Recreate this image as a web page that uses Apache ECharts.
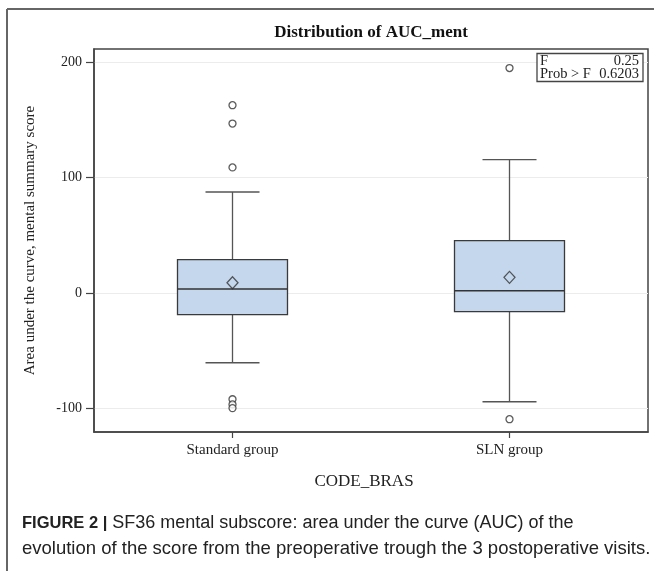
<!DOCTYPE html>
<html>
<head>
<meta charset="utf-8">
<script src="https://cdn.jsdelivr.net/npm/echarts@6/dist/echarts.min.js"></script>
<style>
html,body{margin:0;padding:0;background:#fff;}
#chart{width:654px;height:571px;}
</style>
</head>
<body>
<div id="chart"></div>
<script>
// ---- data ----
var categories = ['Standard group', 'SLN group'];
var whiskerLow = [-60.4, -94.2];
var q1 = [-18.7, -16.1];
var median = [3.5, 2.0];
var q3 = [29.0, 45.4];
var whiskerHigh = [87.6, 115.7];
var means = [9.0, 13.6];
var outlierGroup = [0, 0, 0, 0, 0, 0, 1, 1];
var outlierValues = [162.8, 146.9, 108.9, -92.0, -96.5, -99.7, 195.0, -109.3];
var yTicks = [-100, 0, 100, 200];
var titleText = 'Distribution of AUC_ment';
var yAxisName = 'Area under the curve, mental summary score';
var xAxisName = 'CODE_BRAS';
var statLabels = ['F', 'Prob > F'];
var statValues = ['0.25', '0.6203'];
var captionBold = 'FIGURE 2 |';
var captionLine1 = ' SF36 mental subscore: area under the curve (AUC) of the';
var captionLine2 = 'evolution of the score from the preoperative trough the 3 postoperative visits.';

var boxData = categories.map(function (c, i) {
  return [i, whiskerLow[i], q1[i], median[i], q3[i], whiskerHigh[i]];
});
var meanData = categories.map(function (c, i) { return [i, means[i]]; });
var outlierData = outlierValues.map(function (v, i) { return [outlierGroup[i], v]; });

var serif = '"Liberation Serif", "DejaVu Serif", serif';
var sans = '"Liberation Sans", Arial, sans-serif';
var BOX_W = 110, CAP_W = 54;

var chart = echarts.init(document.getElementById('chart'), null, {renderer: 'canvas'});
chart.setOption({
  animation: false,
  backgroundColor: '#fff',
  grid: {left: 94, top: 49, right: 6, bottom: 139, show: true, borderColor: '#444', borderWidth: 1.5, backgroundColor: 'transparent'},
  xAxis: {
    type: 'category',
    data: categories,
    boundaryGap: true,
    axisLine: {show: true, onZero: false, lineStyle: {color: '#444', width: 1.5}},
    axisTick: {show: true, alignWithLabel: true, length: 6, lineStyle: {color: '#444', width: 1.2}},
    axisLabel: {fontFamily: serif, fontSize: 15, color: '#222', margin: 11},
    splitLine: {show: false},
    name: xAxisName,
    nameLocation: 'middle',
    nameGap: 41,
    nameTextStyle: {fontFamily: serif, fontSize: 17, color: '#222', padding: [0, 14, 0, 0]}
  },
  yAxis: {
    type: 'value',
    min: -120.4,
    max: 211.5,
    splitNumber: 3,
    axisLine: {show: true, onZero: false, lineStyle: {color: '#444', width: 1.5}},
    axisTick: {show: true, length: 8, customValues: yTicks, lineStyle: {color: '#444', width: 1.2}},
    axisLabel: {fontFamily: serif, fontSize: 14, color: '#222', margin: 12, customValues: yTicks},
    splitLine: {show: true, lineStyle: {color: '#ececec', width: 1}},
    name: yAxisName,
    nameLocation: 'middle',
    nameGap: 56,
    nameTextStyle: {fontFamily: serif, fontSize: 15, color: '#222'}
  },
  series: [
    {
      type: 'custom',
      data: boxData,
      z: 2,
      renderItem: function (params, api) {
        var x = api.value(0);
        var pLow = api.coord([x, api.value(1)]);
        var pQ1 = api.coord([x, api.value(2)]);
        var pMed = api.coord([x, api.value(3)]);
        var pQ3 = api.coord([x, api.value(4)]);
        var pHigh = api.coord([x, api.value(5)]);
        var cx = pQ1[0];
        var lineStyle = {stroke: '#555', lineWidth: 1.3};
        return {
          type: 'group',
          children: [
            {type: 'line', shape: {x1: cx, y1: pQ3[1], x2: cx, y2: pHigh[1]}, style: lineStyle},
            {type: 'line', shape: {x1: cx, y1: pQ1[1], x2: cx, y2: pLow[1]}, style: lineStyle},
            {type: 'line', shape: {x1: cx - CAP_W / 2, y1: pHigh[1], x2: cx + CAP_W / 2, y2: pHigh[1]}, style: lineStyle},
            {type: 'line', shape: {x1: cx - CAP_W / 2, y1: pLow[1], x2: cx + CAP_W / 2, y2: pLow[1]}, style: lineStyle},
            {type: 'rect', shape: {x: cx - BOX_W / 2, y: pQ3[1], width: BOX_W, height: pQ1[1] - pQ3[1]},
             style: {fill: '#c5d7ec', stroke: '#3a3a3a', lineWidth: 1.3}},
            {type: 'line', shape: {x1: cx - BOX_W / 2, y1: pMed[1], x2: cx + BOX_W / 2, y2: pMed[1]}, style: {stroke: '#333', lineWidth: 1.3}}
          ]
        };
      }
    },
    {
      type: 'scatter',
      data: meanData,
      z: 3,
      symbol: 'diamond',
      symbolSize: [11, 12],
      itemStyle: {color: 'transparent', borderColor: '#333', borderWidth: 1.3}
    },
    {
      type: 'scatter',
      data: outlierData,
      z: 3,
      symbol: 'circle',
      symbolSize: 7,
      itemStyle: {color: '#fff', borderColor: '#333', borderWidth: 1.3}
    }
  ],
  graphic: [
    {type: 'line', shape: {x1: 7, y1: 9, x2: 654, y2: 9}, style: {stroke: '#666', lineWidth: 2}},
    {type: 'line', shape: {x1: 7, y1: 9, x2: 7, y2: 571}, style: {stroke: '#666', lineWidth: 2}},
    {type: 'text', x: 371, y: 33, style: {text: titleText, font: 'bold 17px ' + serif, fill: '#111', textAlign: 'center', textVerticalAlign: 'middle'}},
    {type: 'rect', shape: {x: 537, y: 53.5, width: 106, height: 28}, style: {fill: '#fff', stroke: '#444', lineWidth: 1.3}, z: 10},
    {type: 'text', x: 540, y: 61.5, z: 11, style: {text: statLabels[0], font: '14.5px ' + serif, fill: '#222', textVerticalAlign: 'middle'}},
    {type: 'text', x: 639, y: 61.5, z: 11, style: {text: statValues[0], font: '14.5px ' + serif, fill: '#222', textAlign: 'right', textVerticalAlign: 'middle'}},
    {type: 'text', x: 540, y: 74.5, z: 11, style: {text: statLabels[1], font: '14.5px ' + serif, fill: '#222', textVerticalAlign: 'middle'}},
    {type: 'text', x: 639, y: 74.5, z: 11, style: {text: statValues[1], font: '14.5px ' + serif, fill: '#222', textAlign: 'right', textVerticalAlign: 'middle'}},
    {type: 'text', x: 22, y: 523, style: {
      text: '{b|' + captionBold + '}{r|' + captionLine1 + '}',
      rich: {
        b: {font: 'bold 16.5px ' + sans, fill: '#222'},
        r: {font: '18px ' + sans, fill: '#222'}
      },
      textVerticalAlign: 'middle'
    }},
    {type: 'text', x: 22, y: 549, style: {text: captionLine2, font: '18.5px ' + sans, fill: '#222', textVerticalAlign: 'middle'}}
  ]
});
</script>
</body>
</html>
